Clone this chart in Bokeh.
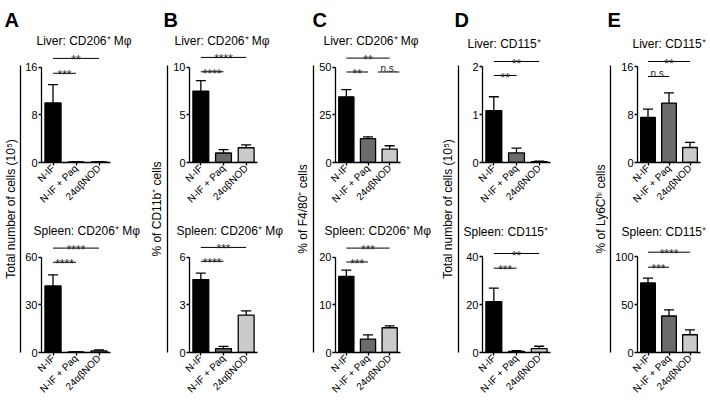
import math
from bokeh.plotting import figure
from bokeh.layouts import row, column
from bokeh.models import (ColumnDataSource, Range1d, FactorRange, LinearAxis, FixedTicker,
                          Whisker, TeeHead, Title)
from bokeh.core.properties import value
from bokeh.core.validation import silence
from bokeh.core.validation.warnings import MISSING_RENDERERS
from bokeh.embed import file_html
from bokeh.resources import INLINE

silence(MISSING_RENDERERS, True)

# ---------------- data ----------------
groups = ["N-IF", "N-IF + Paq", "24αβNOD"]
panel_letters = ["A", "B", "C", "D", "E"]
y_labels = ["Total number of cells (10⁵)", "% of CD11b⁺ cells", "% of F4/80⁺ cells",
            "Total number of cells (10⁵)", "% of Ly6Cʰⁱ cells"]
liver_titles = ["Liver: CD206⁺ Mφ", "Liver: CD206⁺ Mφ", "Liver: CD206⁺ Mφ",
                "Liver: CD115⁺", "Liver: CD115⁺"]
spleen_titles = ["Spleen: CD206⁺ Mφ", "Spleen: CD206⁺ Mφ", "Spleen: CD206⁺ Mφ",
                 "Spleen: CD115⁺", "Spleen: CD115⁺"]
liver_yticks = [[0, 8, 16], [0, 5, 10], [0, 25, 50], [0, 1, 2], [0, 8, 16]]
spleen_yticks = [[0, 30, 60], [0, 3, 6], [0, 10, 20], [0, 20, 40], [0, 50, 100]]

liver_mean = [[10.0, 0.1, 0.1], [7.5, 1.0, 1.55], [34.5, 12.5, 7.0],
              [1.08, 0.2, 0.02], [7.5, 9.9, 2.5]]
liver_sem = [[3.1, 0.05, 0.05], [1.1, 0.35, 0.3], [3.8, 1.0, 1.8],
             [0.29, 0.1, 0.01], [1.4, 1.7, 0.85]]
spleen_mean = [[42.0, 0.3, 1.0], [4.6, 0.25, 2.35], [16.0, 2.8, 5.2],
               [21.2, 0.5, 1.6], [72.5, 38.0, 18.5]]
spleen_sem = [[7.0, 0.1, 0.6], [0.4, 0.13, 0.27], [1.3, 0.9, 0.4],
              [5.6, 0.3, 1.0], [5.0, 6.5, 5.0]]

# significance comparisons: (from, to, label, level 1=upper / 0=lower)
liver_sig = [
    [("N-IF", "24αβNOD", "**", 1), ("N-IF", "N-IF + Paq", "***", 0)],
    [("N-IF", "24αβNOD", "****", 1), ("N-IF", "N-IF + Paq", "****", 0)],
    [("N-IF", "24αβNOD", "**", 1), ("N-IF", "N-IF + Paq", "**", 0),
     ("N-IF + Paq", "24αβNOD", "n.s.", 0)],
    [("N-IF", "24αβNOD", "**", 1), ("N-IF", "N-IF + Paq", "**", 0)],
    [("N-IF", "24αβNOD", "**", 1), ("N-IF", "N-IF + Paq", "n.s.", 0)],
]
spleen_sig = [
    [("N-IF", "24αβNOD", "****", 1), ("N-IF", "N-IF + Paq", "****", 0)],
    [("N-IF", "24αβNOD", "***", 1), ("N-IF", "N-IF + Paq", "****", 0)],
    [("N-IF", "24αβNOD", "***", 1), ("N-IF", "N-IF + Paq", "***", 0)],
    [("N-IF", "24αβNOD", "**", 1), ("N-IF", "N-IF + Paq", "***", 0)],
    [("N-IF", "24αβNOD", "****", 1), ("N-IF", "N-IF + Paq", "***", 0)],
]

# ---------------- layout / style ----------------
FONT = "Liberation Sans"
bar_colors = ["#000000", "#6b6b6b", "#cbcbcb"]
AXIS_PX = 96
strip_w = [22, 26, 26, 24, 22]
strip_bl = [18, 23, 23, 22, 19]
strip_standoff = [3, 4, 4, 4, 3]
fig_w = [122, 120, 120, 130, 98]
fig_bl = [18, 18, 18, 22, 23]
fig_br = [34, 33, 36, 40, 10]
BAND_H = 31
LIVER_H, LIVER_BB = 190, 59
liver_bt = [15, 15, 15, 19, 19]
SPLEEN_H, SPLEEN_BB = 183, 52
spleen_bt = [15, 15, 15, 17, 17]
STRIP_H, STRIP_BT, STRIP_BB = 373, 34, 52
letter_x = [4, 163, 312, 454, 607]
LETTER_BASE = 19
# bracket heights (px, relative to top of y axis): (upper, lower)
liver_line_dy = [(-9, 6), (-10, 4.5), (-9.3, 4.7), (-5, 9), (-5, 10)]
spleen_line_dy = [(-9.3, 5), (-10, 4), (-9.3, 4.7), (-3, 11.7), (-4.3, 10.7)]
liver_title_off = [-5, -15, -12, -15, -5]
spleen_title_off = [-8, -13, -11, -19, -16]
liver_sig_shift = [[0, 0], [0, 0], [0, 0, 0.45], [0, 0], [0, 0]]
spleen_sig_shift = [[0, 0]] * 5


def style_axes(p, ticks):
    ymax = ticks[-1]
    p.xgrid.visible = False
    p.ygrid.visible = False
    ya = p.yaxis[0]
    ya.ticker = FixedTicker(ticks=ticks)
    ya.bounds = (0, ymax)
    xa = p.xaxis[0]
    for ax in (xa, ya):
        ax.axis_line_width = 1.3
        ax.axis_line_color = "black"
        ax.major_tick_line_width = 1.3
        ax.major_tick_line_color = "black"
        ax.major_tick_in = 0
        ax.major_tick_out = 3
        ax.minor_tick_line_color = None
        ax.major_label_standoff = 1
        ax.major_label_text_font = FONT
        ax.major_label_text_color = "black"
    ya.major_label_text_font_size = "11px"
    xa.major_label_text_font_size = "10px"
    xa.major_label_orientation = math.pi / 4


def make_plot(i, kind):
    if kind == "liver":
        ticks, mean, sem, sig = liver_yticks[i], liver_mean[i], liver_sem[i], liver_sig[i]
        title, H, BB, BT = liver_titles[i], LIVER_H, LIVER_BB, liver_bt[i]
        line_dy, t_off, shifts = liver_line_dy[i], liver_title_off[i], liver_sig_shift[i]
    else:
        ticks, mean, sem, sig = spleen_yticks[i], spleen_mean[i], spleen_sem[i], spleen_sig[i]
        title, H, BB, BT = spleen_titles[i], SPLEEN_H, SPLEEN_BB, spleen_bt[i]
        line_dy, t_off, shifts = spleen_line_dy[i], spleen_title_off[i], spleen_sig_shift[i]
    ymax = ticks[-1]
    frame_h = H - BB - BT
    p = figure(width=fig_w[i], height=H, x_range=FactorRange(factors=groups),
               y_range=Range1d(0, ymax * frame_h / AXIS_PX),
               output_backend="svg", toolbar_location=None,
               min_border_left=fig_bl[i], min_border_right=fig_br[i],
               min_border_top=BT, min_border_bottom=BB, outline_line_color=None)
    style_axes(p, ticks)
    p.add_layout(Title(text=title, align="left", offset=t_off, standoff=0,
                       vertical_align="bottom", text_font=FONT, text_font_size="12px",
                       text_font_style="normal", text_color="black"), "above")

    src = ColumnDataSource(dict(g=groups, m=mean,
                                hi=[m + s for m, s in zip(mean, sem)], c=bar_colors))
    p.vbar(x="g", top="m", width=0.7, fill_color="c", line_color="black",
           line_width=1.3, source=src)
    p.add_layout(Whisker(source=src, base="g", lower="m", upper="hi", dimension="height",
                         line_color="black", line_width=1.3, level="annotation",
                         upper_head=TeeHead(size=10, line_color="black", line_width=1.3),
                         lower_head=None))

    x0, x1, ys, xm, txt, yoff, fs = [], [], [], [], [], [], []
    for (a, b, lab, lvl), sh in zip(sig, shifts):
        xa = groups.index(a) + 0.5 + sh
        xb = groups.index(b) + 0.5 + sh
        dy = line_dy[0] if lvl == 1 else line_dy[1]
        y = ymax * (1 - dy / AXIS_PX)
        x0.append(xa); x1.append(xb); ys.append(y); xm.append((xa + xb) / 2)
        txt.append(lab)
        if lab == "n.s.":
            yoff.append(-3.5); fs.append("10px")
        else:
            yoff.append(2); fs.append("12px")
    ssrc = ColumnDataSource(dict(x0=x0, x1=x1, y=ys, xm=xm, t=txt, yo=yoff, fs=fs))
    p.segment(x0="x0", y0="y", x1="x1", y1="y", line_color="black", line_width=1.0,
              source=ssrc)
    p.text(x="xm", y="y", text="t", y_offset="yo", text_font_size="fs",
           text_font=value(FONT), text_color="#222222", text_align="center",
           text_baseline="alphabetic", source=ssrc)
    return p


def make_strip(i):
    s = figure(width=strip_w[i], height=STRIP_H, x_range=Range1d(0, 1), y_range=Range1d(0, 1),
               x_axis_type=None, y_axis_type=None, output_backend="svg",
               toolbar_location=None, min_border_left=strip_bl[i], min_border_right=0,
               min_border_top=STRIP_BT, min_border_bottom=STRIP_BB, outline_line_color=None)
    s.xgrid.visible = False
    s.ygrid.visible = False
    ax = LinearAxis(axis_label=y_labels[i], ticker=FixedTicker(ticks=[]),
                    axis_label_standoff=strip_standoff[i],
                    axis_label_text_font=FONT, axis_label_text_font_size="12px",
                    axis_label_text_font_style="normal", axis_label_text_color="black",
                    major_tick_in=0, major_tick_out=0, minor_tick_in=0, minor_tick_out=0,
                    major_label_text_font_size="0px",
                    axis_line_width=1.3, axis_line_color="black")
    s.add_layout(ax, "left")
    return s


TOTAL_W = sum(strip_w) + sum(fig_w)
band = figure(width=TOTAL_W, height=BAND_H,
              x_range=Range1d(0, TOTAL_W), y_range=Range1d(0, BAND_H),
              x_axis_type=None, y_axis_type=None, output_backend="svg",
              toolbar_location=None, min_border=0, outline_line_color=None)
band.xgrid.visible = False
band.ygrid.visible = False
band.text(x=letter_x, y=[BAND_H - LETTER_BASE] * 5, text=panel_letters, text_font=value(FONT),
          text_font_size="20px", text_font_style="bold", text_color="black",
          text_align="left", text_baseline="alphabetic")

children = []
for i in range(5):
    children.append(make_strip(i))
    children.append(column(make_plot(i, "liver"), make_plot(i, "spleen"), spacing=0))

layout = column(band, row(*children, spacing=0), spacing=0)

open("out.html", "w").write(file_html(layout, INLINE))
